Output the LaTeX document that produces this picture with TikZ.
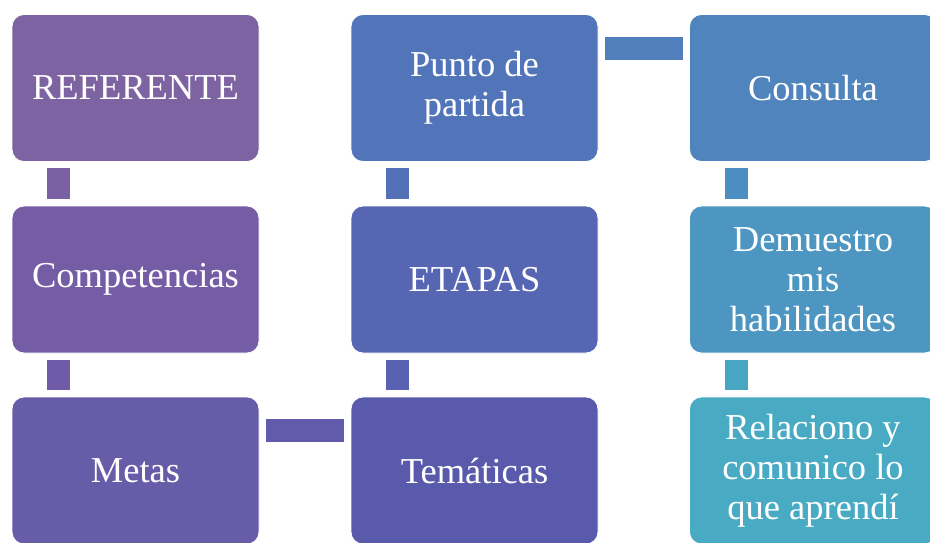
\documentclass[tikz,border=0pt]{standalone}
\usepackage{fontspec}
\setmainfont{Liberation Serif}
\usetikzlibrary{calc}
\definecolor{cA}{HTML}{7D63A2}
\definecolor{cB}{HTML}{755DA6}
\definecolor{cC}{HTML}{675CA8}
\definecolor{cD}{HTML}{5A5AAD}
\definecolor{cE}{HTML}{5666B3}
\definecolor{cF}{HTML}{5275BA}
\definecolor{cG}{HTML}{5084BC}
\definecolor{cH}{HTML}{4C96C1}
\definecolor{cI}{HTML}{49AAC3}
\definecolor{kA}{HTML}{7A60A5}
\definecolor{kB}{HTML}{6F5BA7}
\definecolor{kC}{HTML}{625AAA}
\definecolor{kD}{HTML}{5862B0}
\definecolor{kE}{HTML}{5470B6}
\definecolor{kF}{HTML}{507FBC}
\definecolor{kG}{HTML}{4C8EBF}
\definecolor{kH}{HTML}{49A6C3}
\tikzset{
  box/.style={rectangle, rounded corners=12pt, minimum width=247pt, minimum height=147pt,
    inner sep=0pt, text=white, align=center, draw=white, line width=0.8pt,
    font=\fontsize{36.5}{40}\selectfont},
  conn/.style={line width=23pt, shorten <=6.5pt, shorten >=6.5pt}
}
\begin{document}
\begin{tikzpicture}[x=1pt,y=-1pt]
\useasboundingbox (0,0) rectangle (930,542);
\clip (0,0) rectangle (930,542);
\node[box, fill=cA] (ref)  at (135.5,88)  {REFERENTE};
\node[box, fill=cB] (comp) at (135.5,279.5) {Competencias};
\node[box, fill=cC] (met)  at (135.5,470.5) {Metas};
\node[box, fill=cD] (tem)  at (474.5,470.5) {Temáticas};
\node[box, fill=cE] (eta)  at (474.5,279.5) {ETAPAS};
\node[box, fill=cF] (pun)  at (474.5,88)  {Punto de\\partida};
\node[box, fill=cG] (con)  at (813,88)  {Consulta};
\node[box, fill=cH] (dem)  at (813,279.5) {Demuestro\\mis\\habilidades};
\node[box, fill=cI] (rel)  at (813,470.5) {Relaciono y\\comunico lo\\que aprendí};
\draw[conn, kA] ($(ref.south west)+(47,0)$) -- ($(comp.north west)+(47,0)$);
\draw[conn, kB] ($(comp.south west)+(47,0)$) -- ($(met.north west)+(47,0)$);
\draw[conn, kC] ($(met.north east)+(0,34)$) -- ($(tem.north west)+(0,34)$);
\draw[conn, kD] ($(tem.north west)+(47,0)$) -- ($(eta.south west)+(47,0)$);
\draw[conn, kE] ($(eta.north west)+(47,0)$) -- ($(pun.south west)+(47,0)$);
\draw[conn, kF] ($(pun.north east)+(0,34)$) -- ($(con.north west)+(0,34)$);
\draw[conn, kG] ($(con.south west)+(47,0)$) -- ($(dem.north west)+(47,0)$);
\draw[conn, kH] ($(dem.south west)+(47,0)$) -- ($(rel.north west)+(47,0)$);
\end{tikzpicture}
\end{document}
